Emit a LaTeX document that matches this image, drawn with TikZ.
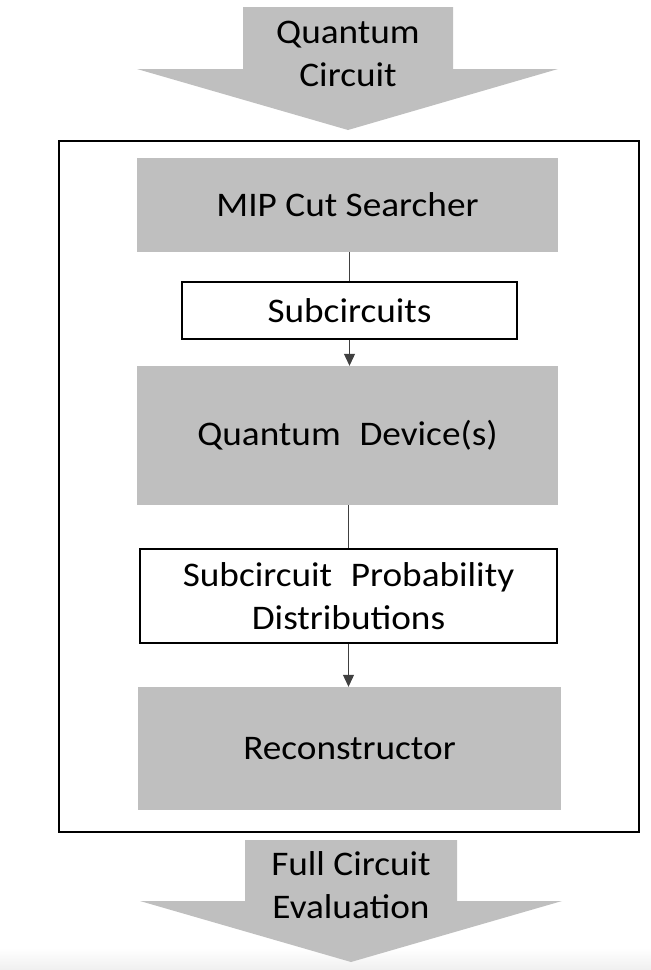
\documentclass[tikz,border=0pt]{standalone}
\usepackage{fontspec}
\setmainfont{Carlito}[FakeStretch=1.08]
\usetikzlibrary{arrows.meta,shadings}
\definecolor{boxgray}{HTML}{BFBFBF}
\definecolor{linegray}{HTML}{404040}
\tikzset{
  txt/.style={font=\fontsize{34.5}{43}\selectfont, align=center, text=black},
  graybox/.style={txt, fill=boxgray, draw=none, inner sep=0pt, minimum width=#1},
  whitebox/.style={txt, fill=white, draw=black, line width=1.3pt, inner sep=0pt},
  link/.style={draw=linegray, line width=1pt},
  linkarrow/.style={link, -{Triangle[width=11pt,length=12pt]}},
  blockarrow/.style={fill=boxgray, draw=none}
}
\begin{document}
\begin{tikzpicture}[x=1pt,y=-1pt]
\useasboundingbox (0,0) rectangle (651,970);
% faint bottom strip
\shade[top color=white, bottom color=black!6, draw=none] (0,948) rectangle (651,970);
% top block arrow
\fill[blockarrow] (243,7) -- (453,7) -- (453,69) -- (558,69) -- (348,130) -- (137,69) -- (243,69) -- cycle;
\node[txt] (qc) at (348,54) {Quantum\\Circuit};
% outer frame
\node[draw=black, line width=1.8pt, minimum width=580pt, minimum height=691pt, inner sep=0pt] (frame) at (349,486.5) {};
% boxes
\node[graybox=421pt, minimum height=94pt] (mip) at (347.5,205) {MIP Cut Searcher};
\node[whitebox, minimum width=335pt, minimum height=57pt] (sub) at (349.5,310.5) {Subcircuits};
\node[graybox=421pt, minimum height=139pt] (qd) at (347.5,435.5) {Quantum\hspace{0.3em} Device(s)};
\node[whitebox, minimum width=417pt, minimum height=94pt] (spd) at (348.5,596) {Subcircuit\hspace{0.3em} Probability\\Distributions};
\node[graybox=423pt, minimum height=123pt] (rec) at (349.5,748.5) {Reconstructor};
% connectors
\draw[link] (mip.south -| sub.north) -- (sub.north);
\draw[linkarrow] (sub.south) -- (sub.south |- qd.north);
\draw[link] (qd.south -| spd.north) -- (spd.north);
\draw[linkarrow] (spd.south) -- (spd.south |- rec.north);
% bottom block arrow
\fill[blockarrow] (245,840) -- (457,840) -- (457,901) -- (562,901) -- (351,962) -- (140,901) -- (245,901) -- cycle;
\node[txt] (fce) at (351,885) {Full Circuit\\Evaluation};
\end{tikzpicture}
\end{document}
